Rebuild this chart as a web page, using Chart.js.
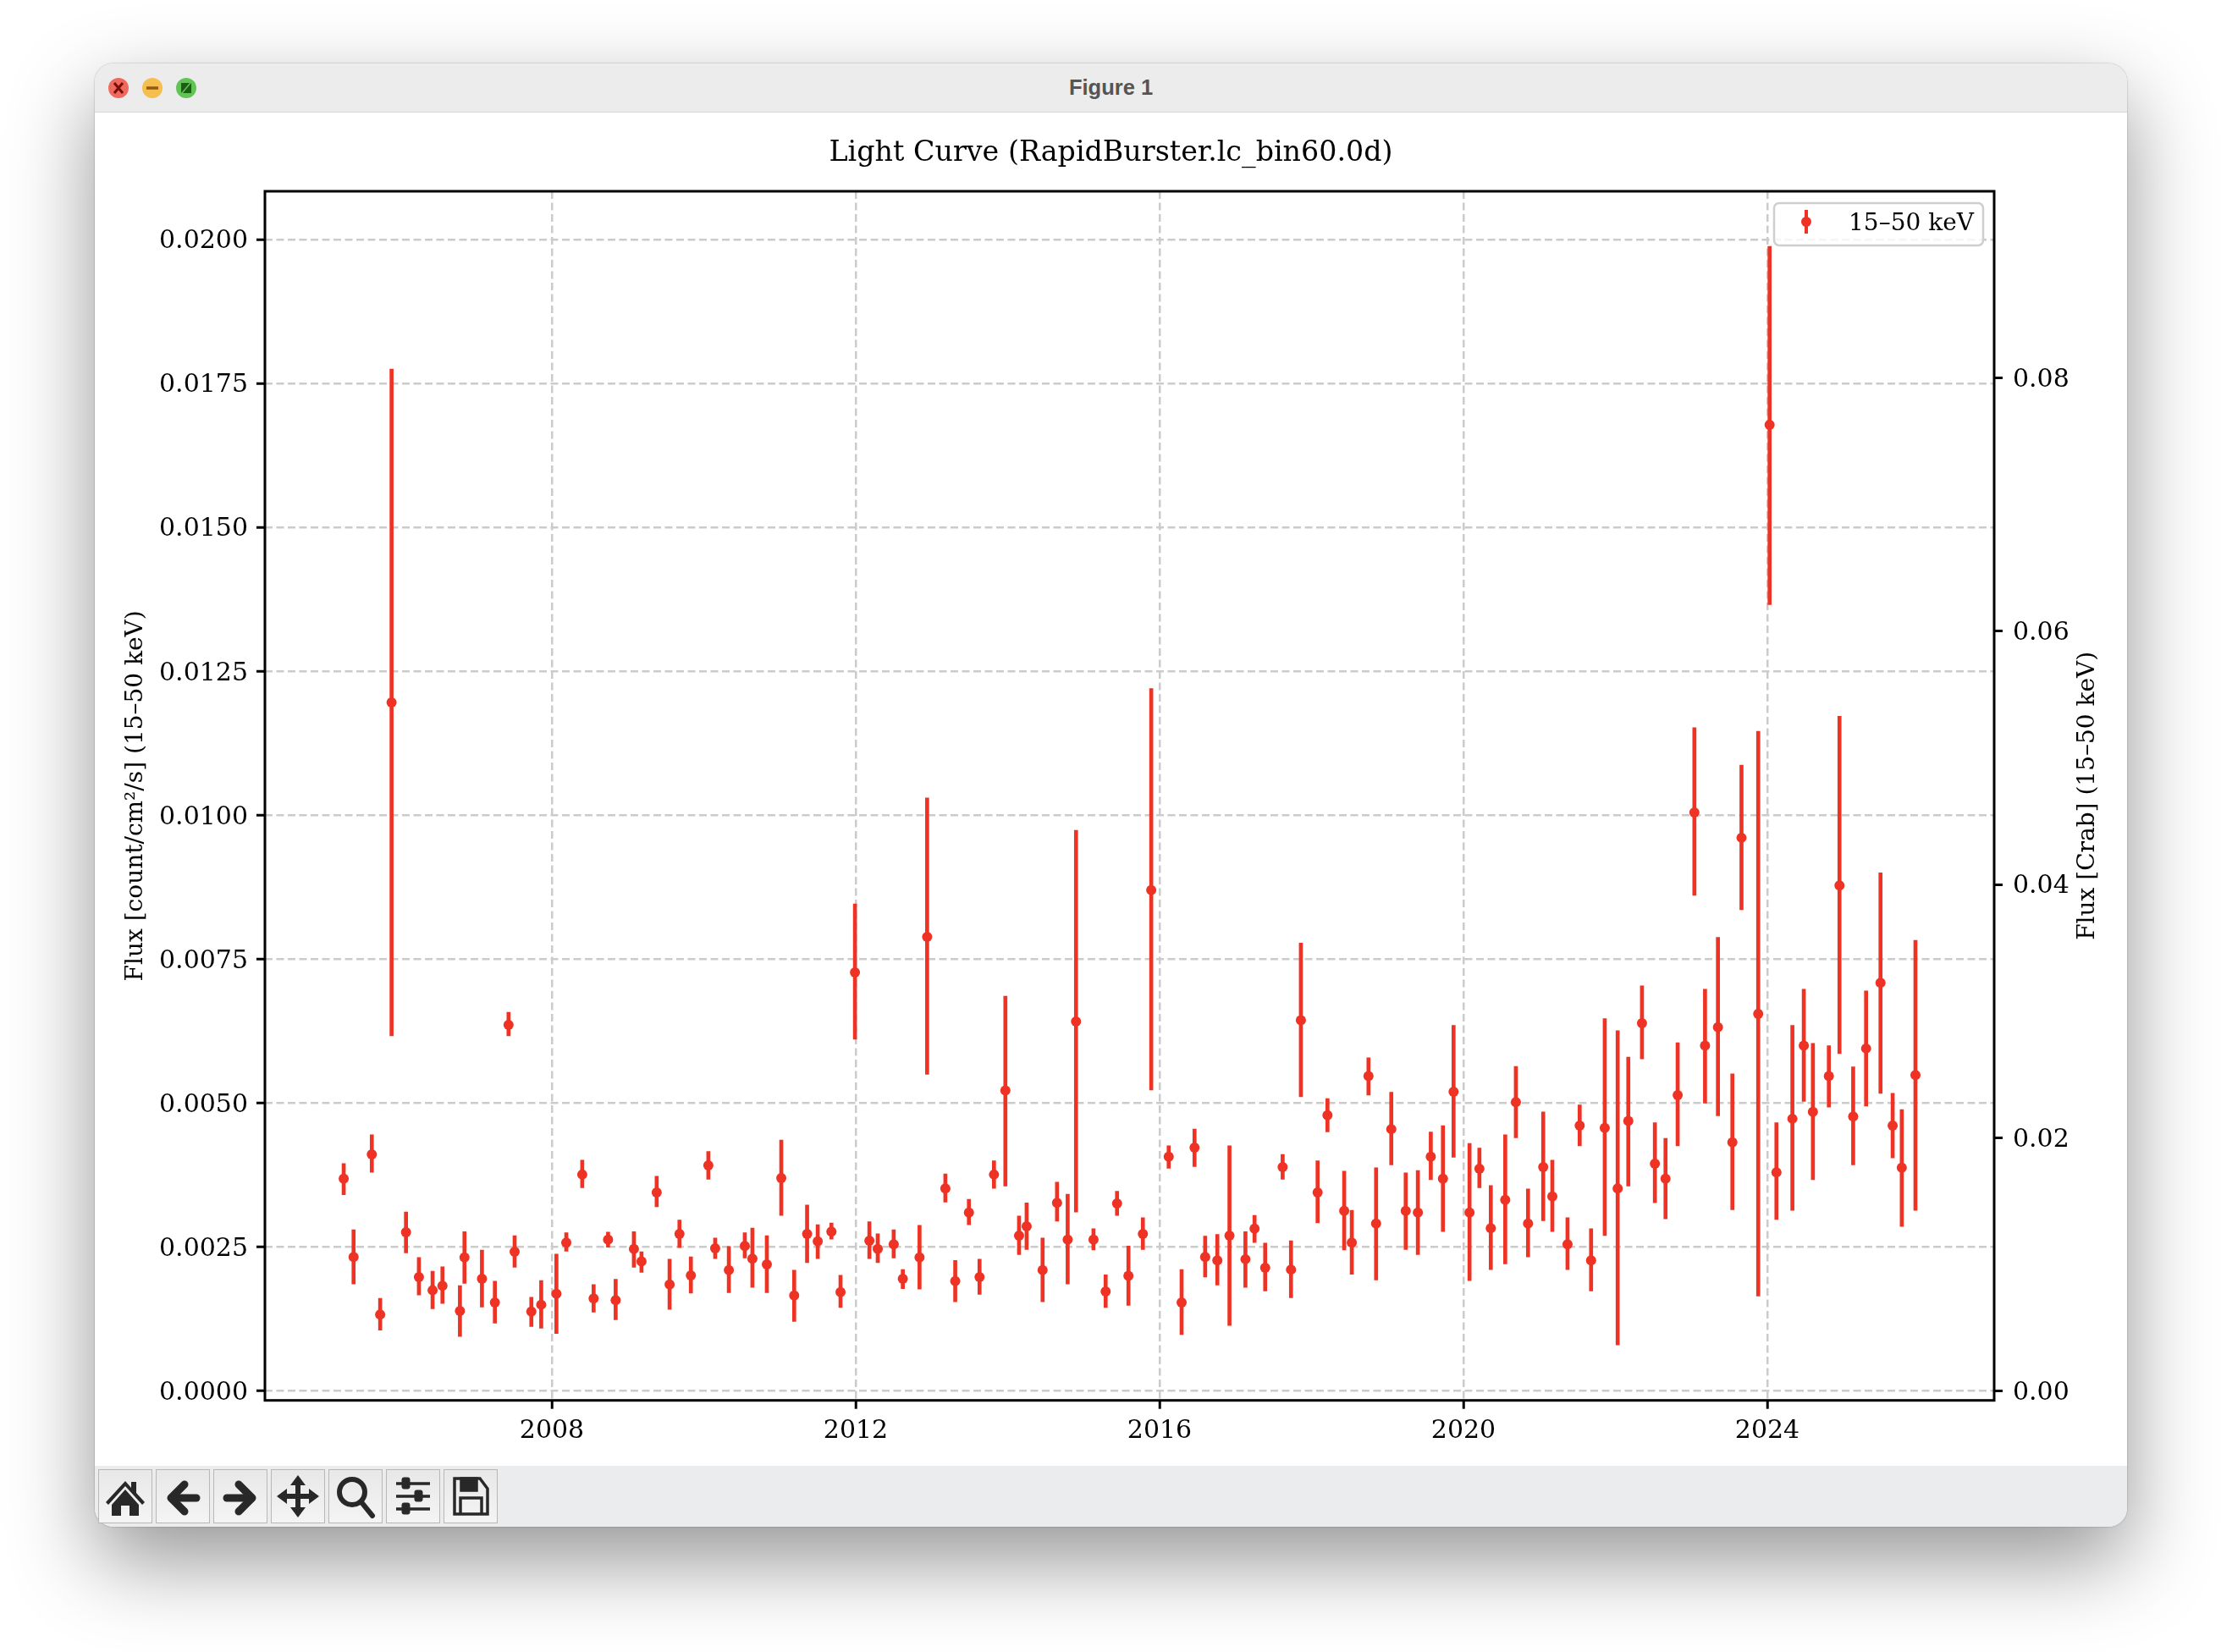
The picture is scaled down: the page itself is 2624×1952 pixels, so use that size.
<!DOCTYPE html>
<html>
<head>
<meta charset="utf-8">
<title>Figure 1</title>
<script src="https://cdn.jsdelivr.net/npm/chart.js@4"></script>
<style>
html,body{margin:0;padding:0;background:#fff;width:2624px;height:1952px;overflow:hidden}
#win{position:absolute;left:112px;top:75px;width:2401px;height:1729px;border-radius:22px;background:#fff;box-shadow:0 40px 100px rgba(0,0,0,.42),0 0 2px rgba(0,0,0,.35)}
#bar{position:absolute;left:0;top:0;width:100%;height:58px;background:#ececec;border-radius:22px 22px 0 0;border-bottom:1.5px solid #d6d6d6;box-sizing:border-box}
#bar span{position:absolute;left:0;right:0;top:14px;text-align:center;font:bold 25.5px "Liberation Sans",sans-serif;color:#555}
.dot{position:absolute;top:17px;width:24px;height:24px}
#tools{position:absolute;left:0;top:1657px;width:100%;height:72px;background:#ebecee;border-radius:0 0 22px 22px}
.btn{position:absolute;top:4px;width:62px;height:62px;border:1.5px solid #b8b8b8;background:linear-gradient(#e8e8e8,#f4f4f4)}
.btn svg{position:absolute;left:0;top:0;width:62px;height:62px}
canvas{position:absolute;left:0;top:58px}
</style>
</head>
<body>
<div id="win">
  <div id="bar">
    <svg class="dot" style="left:16px" viewBox="0 0 24 24"><circle cx="12" cy="12" r="12" fill="#ee6a5f"/><path d="M7 6L17 18M17 6L7 18" stroke="#7a0f08" stroke-width="3"/></svg>
    <svg class="dot" style="left:56px" viewBox="0 0 24 24"><circle cx="12" cy="12" r="12" fill="#f5bf4f"/><path d="M5 12H19" stroke="#94590f" stroke-width="3.5"/></svg>
    <svg class="dot" style="left:96px" viewBox="0 0 24 24"><circle cx="12" cy="12" r="12" fill="#61c454"/><path d="M6 6H16L6 18ZM18 6V18H8Z" fill="#1c5c14"/></svg>
    <span>Figure 1</span>
  </div>
  <canvas id="c" width="2401" height="1599"></canvas>
  <div id="tools">
    <div class="btn" style="left:4px"><svg viewBox="0 0 62 62" fill="#282828"><path d="M31 13L8 38l3 3 20-22 20 22 3-3-10-11V14h-6v7z"/><path d="M15 41l16-18 16 18v13H36V42H26v12H15z"/></svg></div>
    <div class="btn" style="left:72px"><svg viewBox="0 0 62 62" fill="none" stroke="#282828" stroke-linecap="round" stroke-linejoin="round"><path d="M33 17L17 33l16 16" stroke-width="9"/><path d="M18 33H47" stroke-width="9"/></svg></div>
    <div class="btn" style="left:140px"><svg viewBox="0 0 62 62" fill="none" stroke="#282828" stroke-linecap="round" stroke-linejoin="round"><path d="M29 17l16 16-16 16" stroke-width="9"/><path d="M44 33H15" stroke-width="9"/></svg></div>
    <div class="btn" style="left:208px"><svg viewBox="0 0 62 62" fill="#282828"><path d="M31 6l9 12h-6v10h10v-6l12 9-12 9v-6H34v10h6l-9 12-9-12h6V34H18v6L6 31l12-9v6h10V18h-6z"/></svg></div>
    <div class="btn" style="left:276px"><svg viewBox="0 0 62 62" fill="none" stroke="#282828" stroke-linecap="round"><circle cx="27" cy="26" r="15" stroke-width="6"/><path d="M38 38L51 54" stroke-width="6"/></svg></div>
    <div class="btn" style="left:344px"><svg viewBox="0 0 62 62" fill="#282828" stroke="#282828"><path d="M11 16H51M11 31H51M11 46H51" stroke-width="3.5"/><rect x="18" y="9" width="9" height="13" rx="2"/><rect x="33" y="24" width="9" height="13" rx="2"/><rect x="18" y="39" width="9" height="13" rx="2"/></svg></div>
    <div class="btn" style="left:412px"><svg viewBox="0 0 62 62" fill="none" stroke="#282828" stroke-width="3.5"><path d="M12 10H42L51 22V52H12Z"/><path d="M20 10H38V24H20Z" fill="#282828"/><path d="M19 52V33H44V52"/></svg></div>
  </div>
</div>
<script>
const tickYears=[2008,2012,2016,2020,2024];
const fluxTicks=[0,0.0025,0.005,0.0075,0.01,0.0125,0.015,0.0175,0.02];
const crabTicks=[0,0.02,0.04,0.06,0.08];
// decimal year of each 60 day bin
const years=[2005.26,2005.39,2005.63,2005.74,2005.89,2006.08,2006.25,2006.43,2006.56,2006.79,2006.85,2007.08,2007.25,2007.43,2007.51,2007.73,2007.86,2008.06,2008.19,2008.40,2008.55,2008.74,2008.84,2009.08,2009.18,2009.38,2009.55,2009.68,2009.83,2010.06,2010.15,2010.33,2010.54,2010.64,2010.83,2011.02,2011.19,2011.36,2011.50,2011.68,2011.80,2011.99,2012.18,2012.29,2012.50,2012.62,2012.84,2012.94,2013.18,2013.31,2013.49,2013.63,2013.82,2013.97,2014.15,2014.25,2014.46,2014.65,2014.79,2014.90,2015.13,2015.29,2015.44,2015.59,2015.78,2015.89,2016.12,2016.29,2016.46,2016.60,2016.76,2016.92,2017.13,2017.25,2017.39,2017.62,2017.73,2017.86,2018.08,2018.21,2018.43,2018.53,2018.75,2018.85,2019.05,2019.24,2019.40,2019.57,2019.73,2019.87,2020.08,2020.21,2020.36,2020.55,2020.69,2020.85,2021.05,2021.17,2021.37,2021.53,2021.68,2021.86,2022.03,2022.17,2022.35,2022.52,2022.66,2022.82,2023.04,2023.18,2023.35,2023.54,2023.66,2023.88,2024.03,2024.12,2024.33,2024.48,2024.60,2024.81,2024.95,2025.13,2025.30,2025.49,2025.65,2025.77,2025.95];
const flux=[.00369,.00233,.00411,.00133,.01196,.00276,.00198,.00175,.00183,.00139,.00232,.00195,.00154,.00636,.00242,.00138,.00150,.00169,.00258,.00376,.00161,.00263,.00158,.00247,.00225,.00345,.00185,.00273,.00201,.00392,.00248,.00210,.00252,.00230,.00220,.00370,.00166,.00273,.00260,.00277,.00172,.00727,.00261,.00247,.00255,.00195,.00232,.00789,.00352,.00191,.00310,.00198,.00376,.00522,.00270,.00286,.00210,.00327,.00263,.00642,.00263,.00173,.00326,.00200,.00273,.00870,.00407,.00154,.00423,.00233,.00227,.00270,.00229,.00282,.00214,.00389,.00211,.00644,.00345,.00479,.00313,.00258,.00547,.00291,.00455,.00313,.00310,.00407,.00369,.00520,.00310,.00386,.00283,.00332,.00502,.00291,.00389,.00338,.00255,.00461,.00227,.00457,.00352,.00469,.00639,.00395,.00369,.00514,.01005,.00600,.00632,.00432,.00961,.00655,.01678,.00380,.00473,.00600,.00485,.00547,.00878,.00477,.00595,.00709,.00461,.00388,.00549];
const fluxHigh=[.00395,.00280,.00445,.00161,.01775,.00311,.00232,.00208,.00216,.00183,.00277,.00245,.00191,.00658,.00270,.00163,.00192,.00238,.00275,.00401,.00185,.00276,.00194,.00277,.00242,.00373,.00229,.00297,.00233,.00416,.00266,.00251,.00275,.00283,.00270,.00436,.00210,.00323,.00289,.00292,.00201,.00846,.00294,.00273,.00280,.00211,.00288,.01030,.00377,.00227,.00333,.00229,.00400,.00686,.00304,.00327,.00266,.00363,.00342,.00974,.00282,.00202,.00347,.00252,.00301,.01220,.00426,.00211,.00455,.00269,.00272,.00426,.00277,.00305,.00257,.00411,.00261,.00778,.00400,.00508,.00382,.00314,.00579,.00388,.00519,.00379,.00383,.00450,.00461,.00635,.00430,.00422,.00357,.00445,.00564,.00351,.00485,.00401,.00301,.00497,.00282,.00647,.00626,.00580,.00704,.00466,.00439,.00605,.01152,.00698,.00788,.00551,.01087,.01146,.01988,.00466,.00635,.00698,.00604,.00600,.01172,.00563,.00695,.00900,.00517,.00489,.00783];
const fluxLow=[.00341,.00186,.00380,.00106,.00617,.00240,.00167,.00143,.00152,.00095,.00187,.00146,.00118,.00617,.00215,.00112,.00109,.00100,.00243,.00353,.00137,.00250,.00124,.00215,.00206,.00320,.00142,.00249,.00170,.00368,.00230,.00171,.00231,.00180,.00171,.00305,.00121,.00223,.00230,.00264,.00145,.00611,.00230,.00223,.00231,.00178,.00177,.00550,.00328,.00155,.00289,.00168,.00352,.00356,.00237,.00246,.00155,.00295,.00186,.00311,.00245,.00145,.00305,.00149,.00246,.00523,.00387,.00098,.00390,.00198,.00184,.00114,.00180,.00258,.00174,.00368,.00162,.00511,.00292,.00450,.00245,.00203,.00514,.00193,.00393,.00246,.00237,.00367,.00277,.00406,.00192,.00353,.00211,.00221,.00440,.00233,.00296,.00277,.00211,.00426,.00174,.00270,.00080,.00356,.00577,.00327,.00299,.00426,.00861,.00500,.00478,.00315,.00836,.00165,.01366,.00298,.00314,.00503,.00367,.00493,.00586,.00393,.00495,.00517,.00405,.00286,.00314];

const red='#ee3224';
const serif='"DejaVu Serif"';

// spines, the right hand label (reads upward like the left one) and the legend
const decor={
    id:'decor',
    afterDraw(chart){
        const {ctx,chartArea:a}=chart;
        ctx.save();
        ctx.strokeStyle='#000';
        ctx.lineWidth=3;
        ctx.strokeRect(a.left,a.top,a.right-a.left,a.bottom-a.top);

        ctx.save();
        ctx.translate(2355,(a.top+a.bottom)/2);
        ctx.rotate(-Math.PI/2);
        ctx.fillStyle='#000';
        ctx.font='28px '+serif;
        ctx.textAlign='center';
        ctx.textBaseline='middle';
        ctx.fillText('Flux [Crab] (15–50 keV)',0,0);
        ctx.restore();

        const lx=a.right-260, ly=a.top+14, lw=247, lh=50;
        ctx.beginPath();
        ctx.roundRect(lx,ly,lw,lh,6);
        ctx.fillStyle='rgba(255,255,255,0.8)';
        ctx.fill();
        ctx.strokeStyle='#cfcfcf';
        ctx.lineWidth=2.5;
        ctx.stroke();
        ctx.fillStyle=red;
        ctx.fillRect(lx+36,ly+8,4,28);
        ctx.beginPath();
        ctx.arc(lx+38,ly+22,6,0,Math.PI*2);
        ctx.fill();
        ctx.fillStyle='#000';
        ctx.font='28px '+serif;
        ctx.textAlign='left';
        ctx.textBaseline='middle';
        ctx.fillText('15–50 keV',lx+88,ly+25);
        ctx.restore();
    }
};

const tickFont={family:serif,size:30};
const setTicks=list=>scale=>{scale.ticks=list.map(v=>({value:v}));};

new Chart(document.getElementById('c'),{
    type:'bar',
    data:{
        datasets:[
            {
                type:'scatter',
                label:'15–50 keV',
                data:years.map((x,i)=>({x:x,y:flux[i]})),
                backgroundColor:red,
                borderColor:red,
                pointRadius:6,
                pointBorderWidth:0,
                order:1
            },
            {
                type:'bar',
                label:'error',
                data:years.map((x,i)=>({x:x,y:[fluxLow[i],fluxHigh[i]]})),
                backgroundColor:red,
                barThickness:4,
                grouped:false,
                order:2
            }
        ]
    },
    options:{
        responsive:false,
        devicePixelRatio:1,
        animation:false,
        layout:{padding:0},
        plugins:{
            legend:{display:false},
            tooltip:{enabled:false},
            title:{
                display:true,
                text:'Light Curve (RapidBurster.lc_bin60.0d)',
                color:'#000',
                font:{family:serif,size:33.3,weight:'normal'},
                padding:{top:28.5,bottom:24.54}
            }
        },
        scales:{
            x:{
                type:'linear',
                offset:false,
                min:2004.223,
                max:2026.986,
                afterBuildTicks:setTicks(tickYears),
                afterFit(s){s.height=77.3;},
                grid:{offset:false,color:'#cbcbcb',lineWidth:2.5,tickColor:'#000',tickWidth:3,tickLength:10},
                border:{display:false,dash:[9,4.5]},
                ticks:{color:'#000',font:tickFont,padding:9,maxRotation:0,autoSkip:false,callback:v=>String(v)}
            },
            y:{
                type:'linear',
                position:'left',
                min:-0.000162,
                max:0.020838,
                afterBuildTicks:setTicks(fluxTicks),
                afterFit(s){s.width=201;},
                grid:{color:'#cbcbcb',lineWidth:2.5,tickColor:'#000',tickWidth:3,tickLength:10},
                border:{display:false,dash:[9,4.5]},
                ticks:{color:'#000',font:tickFont,padding:10,labelOffset:2.5,autoSkip:false,callback:v=>v.toFixed(4)},
                title:{display:true,text:'Flux [count/cm²/s] (15–50 keV)',color:'#000',font:{family:serif,size:28},padding:{top:32,bottom:0}}
            },
            y2:{
                type:'linear',
                position:'right',
                min:-0.000735,
                max:0.09475,
                afterBuildTicks:setTicks(crabTicks),
                afterFit(s){s.width=157;},
                grid:{drawOnChartArea:false,tickColor:'#000',tickWidth:3,tickLength:10},
                border:{display:false},
                ticks:{color:'#000',font:tickFont,padding:12,labelOffset:2.5,autoSkip:false,callback:v=>v.toFixed(2)}
            }
        }
    },
    plugins:[decor]
});
</script>
</body>
</html>
